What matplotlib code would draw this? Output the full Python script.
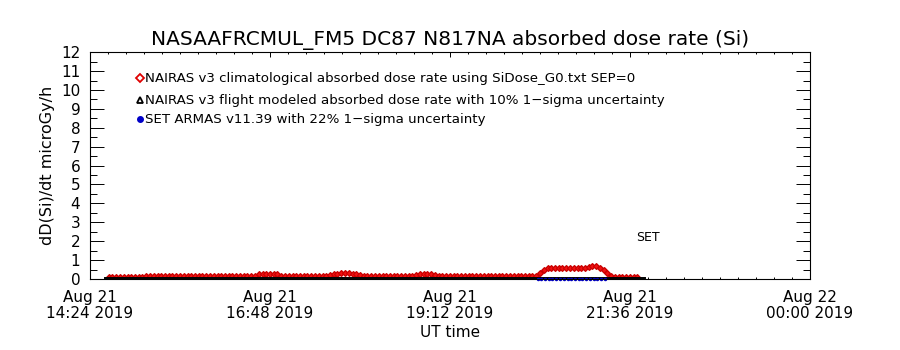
import matplotlib
matplotlib.use("Agg")
import matplotlib.pyplot as plt
import matplotlib.dates as mdates
from matplotlib.ticker import AutoMinorLocator, MultipleLocator
import pandas as pd

plt.rcParams['font.family'] = ['DejaVu Sans']

# Climatological absorbed dose rate (microGy/h), 3-minute samples from 14:39 UT
clim_start = "2019-08-21 14:39"
clim_values = [
    0.12, 0.12, 0.12, 0.12, 0.12, 0.12, 0.12, 0.12, 0.12, 0.12,
    0.15, 0.15, 0.15, 0.15, 0.15, 0.15, 0.15, 0.15, 0.15, 0.15,
    0.15, 0.15, 0.15, 0.15, 0.15, 0.15, 0.15, 0.15, 0.15, 0.15,
    0.15, 0.15, 0.15, 0.15, 0.15, 0.15, 0.15, 0.15, 0.15, 0.18,
    0.25, 0.25, 0.25, 0.25, 0.25, 0.25, 0.18, 0.15, 0.15, 0.15,
    0.15, 0.15, 0.15, 0.15, 0.15, 0.15, 0.15, 0.15, 0.15, 0.20,
    0.25, 0.27, 0.30, 0.31, 0.30, 0.28, 0.25, 0.20, 0.14, 0.14,
    0.14, 0.14, 0.14, 0.14, 0.14, 0.14, 0.14, 0.14, 0.14, 0.14,
    0.14, 0.14, 0.20, 0.26, 0.27, 0.27, 0.26, 0.20, 0.13, 0.13,
    0.13, 0.13, 0.13, 0.13, 0.13, 0.13, 0.13, 0.13, 0.13, 0.13,
    0.13, 0.13, 0.13, 0.13, 0.13, 0.13, 0.13, 0.13, 0.13, 0.13,
    0.13, 0.13, 0.13, 0.13, 0.15, 0.30, 0.50, 0.58, 0.58, 0.58,
    0.58, 0.58, 0.58, 0.58, 0.58, 0.58, 0.60, 0.60, 0.65, 0.69,
    0.69, 0.60, 0.45, 0.30, 0.15, 0.12, 0.12, 0.12, 0.12, 0.12,
    0.12, 0.12,
]

# Flight modeled absorbed dose rate, 12-minute samples from 14:36 UT
model_start = "2019-08-21 14:36"
model_values = [
    0.04, 0.04, 0.04, 0.04, 0.04, 0.04, 0.04, 0.04, 0.04, 0.04,
    0.04, 0.04, 0.04, 0.04, 0.04, 0.04, 0.04, 0.04, 0.04, 0.04,
    0.04, 0.04, 0.04, 0.04, 0.04, 0.04, 0.04, 0.04, 0.04, 0.04,
    0.04, 0.04, 0.04, 0.04, 0.04, 0.04, 0.04,
]

# SET ARMAS measurements, 3-minute samples from 20:22 UT
armas_start = "2019-08-21 20:22"
armas_values = [
    0.01, 0.01, 0.01, 0.01, 0.01, 0.01, 0.01, 0.01, 0.01, 0.01,
    0.01, 0.01, 0.01, 0.01, 0.01, 0.01, 0.01, 0.01, 0.01,
]

x_ticks = ["2019-08-21 14:24", "2019-08-21 16:48", "2019-08-21 19:12",
           "2019-08-21 21:36", "2019-08-22 00:00"]
y_ticks = [0, 1, 2, 3, 4, 5, 6, 7, 8, 9, 10, 11, 12]

legend_labels = [
    "NAIRAS v3 climatological absorbed dose rate using SiDose_G0.txt SEP=0",
    "NAIRAS v3 flight modeled absorbed dose rate with 10% 1\u2212sigma uncertainty",
    "SET ARMAS v11.39 with 22% 1\u2212sigma uncertainty",
]

clim_t = pd.date_range(clim_start, periods=len(clim_values), freq="3min")
model_t = pd.date_range(model_start, periods=len(model_values), freq="12min")
armas_t = pd.date_range(armas_start, periods=len(armas_values), freq="3min")

fig = plt.figure(figsize=(9, 3.5), dpi=100)
ax = fig.add_axes([0.1, 0.203, 0.8, 0.648])

ax.plot(clim_t, clim_values, linestyle="none", marker="D", markersize=3.0,
        markerfacecolor="#f01010", markeredgecolor="#c80000", markeredgewidth=0.9)
ax.plot(model_t, model_values, color="black", linewidth=1.4)
ax.plot(armas_t, armas_values, linestyle="none", marker="o", markersize=1.5,
        color="#0000c8", clip_on=False)

xt = pd.to_datetime(x_ticks)
ax.set_xlim(xt[0], xt[-1])
ax.set_xticks(xt)
ax.xaxis.set_major_formatter(mdates.DateFormatter("%b %d\n%H:%M %Y"))
ax.xaxis.set_minor_locator(AutoMinorLocator(10))
ax.set_ylim(0, 12)
ax.set_yticks(y_ticks)
ax.yaxis.set_minor_locator(MultipleLocator(0.5))

for lbl in ax.get_xticklabels():
    lbl.set_horizontalalignment("center")
    lbl.set_linespacing(1.05)

ax.tick_params(axis="x", which="major", direction="in", length=3.3, width=0.7,
               top=True, labelsize=11, pad=8)
ax.tick_params(axis="x", which="minor", direction="in", length=1.7, width=0.7,
               top=True)
ax.tick_params(axis="y", which="major", direction="in", length=10.4, width=0.7,
               right=True, labelsize=11, pad=7)
ax.tick_params(axis="y", which="minor", direction="in", length=5.2, width=0.7,
               right=True)
for s in ax.spines.values():
    s.set_linewidth(0.8)

ax.set_xlabel("UT time", fontsize=11, labelpad=3)
ax.set_ylabel("dD(Si)/dt microGy/h", fontsize=11.5, labelpad=4)
fig.text(0.5, 0.886, "NASAAFRCMUL_FM5 DC87 N817NA absorbed dose rate (Si)",
         ha="center", va="center", fontsize=14.5)

# legend entries drawn as marker + text rows in axes coordinates
rows = [0.885, 0.789, 0.705]
ax.plot([0.069], [rows[0]], transform=ax.transAxes, marker="D", markersize=3.8,
        markerfacecolor="white", markeredgecolor="#e00000", markeredgewidth=1.3)
ax.plot([0.069], [rows[1]], transform=ax.transAxes, marker="^", markersize=4.3,
        markerfacecolor="white", markeredgecolor="black", markeredgewidth=1.3)
ax.plot([0.069], [rows[2]], transform=ax.transAxes, marker="o", markersize=4,
        color="#0000c8")
for r, t in zip(rows, legend_labels):
    ax.text(0.076, r, t, transform=ax.transAxes, ha="left", va="center",
            fontsize=9.6)

ax.text(pd.Timestamp("2019-08-21 21:50"), 2.2, "SET", ha="center", va="center",
        fontsize=9)

fig.savefig("out.png", dpi=100)
